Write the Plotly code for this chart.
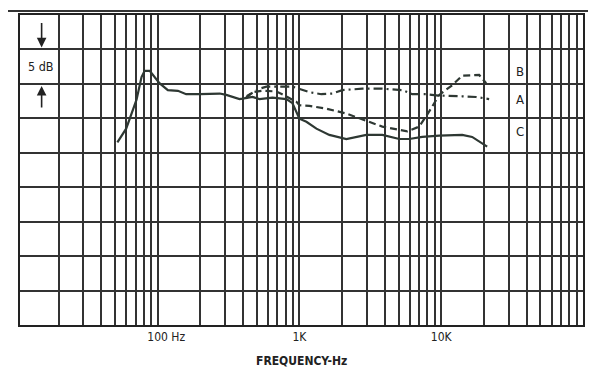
import plotly.graph_objects as go
import numpy as np

# ---- data (frequency in Hz, level in dB on a 0..45 dB chart scale) ----
c_freq = [52, 60, 71, 77, 81, 88, 103, 118, 139, 159, 198, 274, 305, 378, 397, 467, 523,
          645, 810, 893, 1000, 1120, 1318, 1626, 2143, 2964, 3845, 5063, 5955, 7350,
          9680, 14060, 16530, 21090]
c_db = [26.5, 28.5, 32.7, 36.0, 36.9, 36.9, 35.1, 34.1, 34.0, 33.5, 33.5, 33.6, 33.4, 32.8,
        32.85, 33.1, 32.8, 33.0, 32.8, 32.2, 29.95, 29.5, 28.5, 27.6, 27.0, 27.6, 27.6,
        27.0, 27.0, 27.3, 27.5, 27.6, 27.3, 25.9]

a_freq = [420, 431, 523, 586, 723, 893, 1176, 1428, 1708, 2009, 2782, 3845, 5314, 6250,
          7838, 9680, 14060, 17630, 21780]
a_db = [32.9, 33.3, 34.3, 34.6, 34.6, 34.6, 33.8, 33.5, 33.6, 34.1, 34.3, 34.3, 34.1, 33.5,
        33.5, 33.3, 33.2, 33.1, 32.8]

b_freq = [420, 431, 467, 549, 689, 823, 953, 1000, 1176, 1549, 2143, 2649, 3845, 5768,
          7000, 8230, 9680, 11950, 14060, 18530, 20750]
b_db = [32.9, 33.1, 33.8, 34.0, 33.9, 33.1, 32.4, 31.9, 31.8, 31.4, 30.7, 30.0, 28.8, 28.1,
        28.8, 31.0, 33.4, 34.8, 36.2, 36.3, 35.1]

grid_freqs = [f * m for m in (10, 100, 1000, 10000) for f in range(2, 11)]
tick_labels = {100: "\u00a0" * 5 + "100 Hz", 1000: "1K", 10000: "10K"}
curve_labels = ["B", "A", "C"]
curve_label_db = [36.75, 32.7, 28.07]
curve_label_freq = 36000

ink = "#2e3833"
font_fam = "DejaVu Sans Condensed, DejaVu Sans, sans-serif"

fig = go.Figure()
fig.add_trace(go.Scatter(x=c_freq, y=c_db, mode="lines",
                         line=dict(color=ink, width=2.2), showlegend=False))
fig.add_trace(go.Scatter(x=a_freq, y=a_db, mode="lines",
                         line=dict(color=ink, width=2.2, dash="9px,4px,2px,4px"), showlegend=False))
fig.add_trace(go.Scatter(x=b_freq, y=b_db, mode="lines",
                         line=dict(color=ink, width=2.2, dash="7px,4px"), showlegend=False))

annotations = []
for lab, db in zip(curve_labels, curve_label_db):
    annotations.append(dict(x=np.log10(curve_label_freq), y=db, text=lab, showarrow=False,
                            xref="x", yref="y",
                            font=dict(family=font_fam, size=13, color="#222")))

# 5 dB scale marker
annotations.append(dict(x=np.log10(15.0), y=37.5, text="5 dB", showarrow=False,
                        xref="x", yref="y", bgcolor="white",
                        font=dict(family=font_fam, size=12.5, color="#222")))
annotations.append(dict(x=np.log10(15.2), y=40.3, ax=0, ay=-26, showarrow=True,
                        arrowhead=2, arrowsize=1.2, arrowwidth=1.6, arrowcolor="#222",
                        xref="x", yref="y", text=""))
annotations.append(dict(x=np.log10(15.2), y=34.7, ax=0, ay=23, showarrow=True,
                        arrowhead=2, arrowsize=1.2, arrowwidth=1.6, arrowcolor="#222",
                        xref="x", yref="y", text=""))
annotations.append(dict(x=0.5, y=-0.115, xref="paper", yref="paper", text="<b>FREQUENCY-Hz</b>",
                        showarrow=False, yanchor="middle",
                        font=dict(family=font_fam, size=12, color="#222")))

# page body has an 8px default margin: compensate so the frame lands where the reference has it
fig.update_layout(
    width=596, height=376,
    margin=dict(l=12, r=21, t=5, b=59),
    paper_bgcolor="white", plot_bgcolor="white",
    annotations=annotations,
    shapes=[dict(type="line", xref="paper", yref="paper", x0=-0.05, x1=1.06,
                 y0=1.0128, y1=1.0128, line=dict(color="#333", width=2))],
)
fig.update_xaxes(type="log", range=[np.log10(10.7), 5.0],
                 tickmode="array", tickvals=grid_freqs,
                 ticktext=[tick_labels.get(f, "") for f in grid_freqs],
                 showgrid=True, gridcolor="#333", gridwidth=1.5,
                 showline=True, mirror=True, linecolor="#222", linewidth=1.8,
                 ticks="", zeroline=False,
                 tickfont=dict(family=font_fam, size=12, color="#222"))
fig.update_yaxes(range=[0, 45], dtick=5, tick0=0, showticklabels=False,
                 showgrid=True, gridcolor="#333", gridwidth=1.5,
                 showline=True, mirror=True, linecolor="#222", linewidth=1.8,
                 ticks="", zeroline=False)

fig.write_html("out.html")
